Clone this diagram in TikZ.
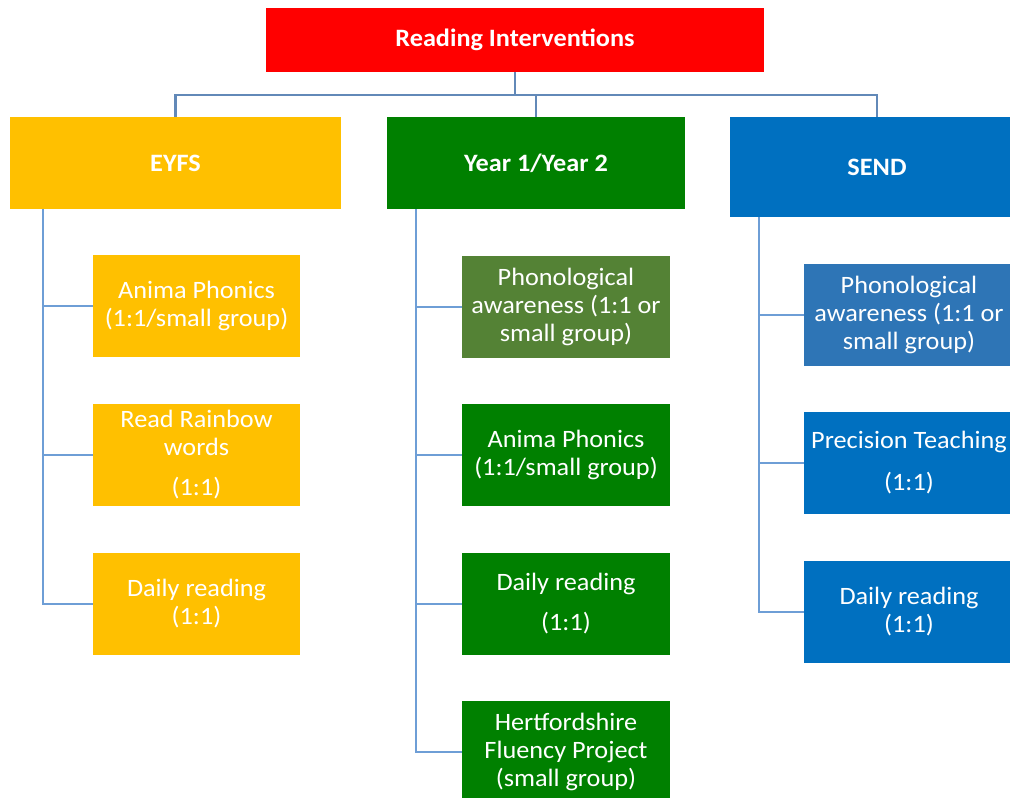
\documentclass[tikz,border=0pt]{standalone}
\usepackage{fontspec}
\setmainfont{Carlito}[FakeStretch=1.05]
\definecolor{cRed}{HTML}{FF0000}
\definecolor{cYel}{HTML}{FFC000}
\definecolor{cGrn}{HTML}{008000}
\definecolor{cOlive}{HTML}{548235}
\definecolor{cBlu}{HTML}{0070C0}
\definecolor{cSteel}{HTML}{2E75B6}
\definecolor{cLineTop}{HTML}{6289B8}
\definecolor{cLine}{HTML}{6E9ED6}
\begin{document}
\begin{tikzpicture}[x=1pt,y=-1pt,
  hbox/.style={fill=#1, text=white, inner sep=0pt, align=center,
    font=\fontsize{25}{28}\selectfont\bfseries},
  cbox/.style={fill=#1, text=white, inner sep=0pt, align=center,
    minimum width=207pt, minimum height=102pt,
    font=\fontsize{25}{28}\selectfont},
  conn/.style={draw=cLineTop, line width=2.2pt},
  conn2/.style={draw=cLine, line width=2pt}]
\useasboundingbox (0,0) rectangle (1010,798);
% top and headers
\node[hbox=cRed, minimum width=498pt, minimum height=64pt] (title) at (515,40) {Reading Interventions};
\node[hbox=cYel, minimum width=331pt, minimum height=92pt] (eyfs) at (175.5,163) {EYFS};
\node[hbox=cGrn, minimum width=298pt, minimum height=92pt] (year) at (536,163) {Year 1/Year 2};
\node[hbox=cBlu, minimum width=294pt, minimum height=100pt] (send) at (877,167) {SEND};
% EYFS children
\node[cbox=cYel] (e1) at (196.5,306) {Anima Phonics\\(1:1/small group)};
\node[cbox=cYel] (e2) at (196.5,455) {Read Rainbow\\words\\[12pt](1:1)};
\node[cbox=cYel] (e3) at (196.5,603.5) {Daily reading\\(1:1)};
% Year children
\node[cbox=cOlive, minimum width=208pt] (y1) at (566,306.5) {Phonological\\awareness (1:1 or\\small group)};
\node[cbox=cGrn, minimum width=208pt] (y2) at (566,454.5) {Anima Phonics\\(1:1/small group)};
\node[cbox=cGrn, minimum width=208pt] (y3) at (566,604) {Daily reading\\[12pt](1:1)};
\node[cbox=cGrn, minimum width=208pt] (y4) at (566,752) {Hertfordshire\\Fluency Project\\(small group)};
% SEND children
\node[cbox=cSteel, minimum width=210pt] (s1) at (909,314.5) {Phonological\\awareness (1:1 or\\small group)};
\node[cbox=cBlu, minimum width=210pt] (s2) at (909,462.5) {Precision Teaching\\[14pt](1:1)};
\node[cbox=cBlu, minimum width=210pt] (s3) at (909,612) {Daily reading\\(1:1)};
% top connectors
\coordinate (bus) at ([yshift=-23pt]title.south);
\draw[conn] (title.south) -- (bus) -| (eyfs.north);
\draw[conn] (bus) -| (year.north);
\draw[conn] (bus) -| (send.north);
% child connectors
\coordinate (ea) at ([xshift=33pt]eyfs.south west);
\coordinate (ya) at ([xshift=29pt]year.south west);
\coordinate (sa) at ([xshift=29pt]send.south west);
\draw[conn2] (ea) |- (e1.west);
\draw[conn2] (ea) |- (e2.west);
\draw[conn2] (ea) |- (e3.west);
\draw[conn2] (ya) |- (y1.west);
\draw[conn2] (ya) |- (y2.west);
\draw[conn2] (ya) |- (y3.west);
\draw[conn2] (ya) |- (y4.west);
\draw[conn2] (sa) |- (s1.west);
\draw[conn2] (sa) |- (s2.west);
\draw[conn2] (sa) |- (s3.west);
\end{tikzpicture}
\end{document}
